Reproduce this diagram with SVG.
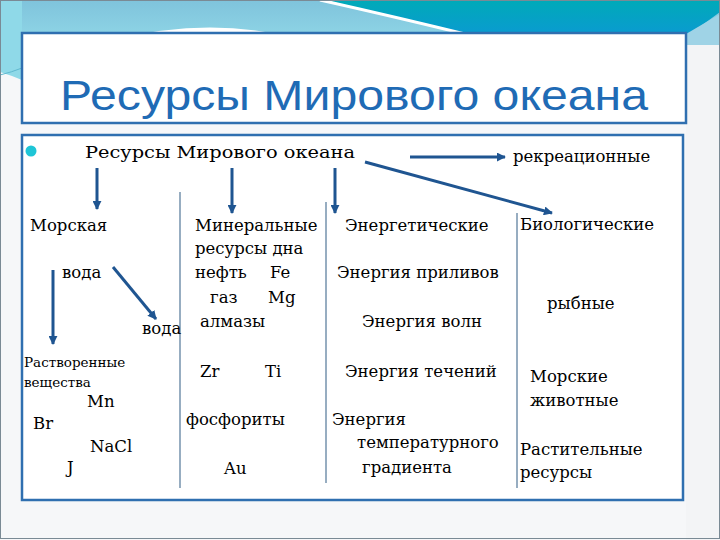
<svg xmlns="http://www.w3.org/2000/svg" width="720" height="540" viewBox="0 0 720 540">
<defs>
<linearGradient id="lb" x1="0" y1="0" x2="0" y2="1"><stop offset="0" stop-color="#7fc3dc"/><stop offset="1" stop-color="#8fd6e6"/></linearGradient>
<linearGradient id="tl" x1="0" y1="0" x2="0" y2="1"><stop offset="0" stop-color="#00aab8"/><stop offset="1" stop-color="#0a9bd0"/></linearGradient>
<marker id="ah" viewBox="0 0 10 10" refX="9" refY="5" markerWidth="9" markerHeight="9" markerUnits="userSpaceOnUse" orient="auto"><path d="M0,0 L10,5 L0,10 z" fill="#1f5591"/></marker>
<style>
.t{font-family:"DejaVu Serif","Liberation Serif",serif;font-size:16.5px;fill:#000}
.s{font-size:13.5px}
.arr{stroke:#1f5591;stroke-width:3;fill:none;marker-end:url(#ah)}
.sep{stroke:#7592ad;stroke-width:1.5}
.box{fill:#fff;stroke:#2f6fb0;stroke-width:2.5}
</style>
</defs>
<rect x="0" y="0" width="720" height="540" fill="#f6f7f9"/>
<path d="M0,0 H720 V40 H0 Z" fill="url(#lb)"/>
<path d="M0,0 H22 V80 Q10,75 0,72 Z" fill="#8fd9e8"/>
<path d="M0,75 Q12,72 22,68" stroke="#5fb8cf" stroke-width="1" fill="none"/>
<path d="M115,40 Q210,15 305,40 Z" fill="#ffffff"/>
<path d="M325,0 H720 V12 L690,34 H465 Q400,18 325,0 Z" fill="url(#tl)"/>
<path d="M320,0 Q400,18 465,34" stroke="#ffffff" stroke-width="3" fill="none"/>
<path d="M686,34 L720,14 V45 H686 Z" fill="#9fd3e6"/>
<rect x="686" y="45" width="34" height="495" fill="#f3f4f6"/>
<rect x="0.5" y="0.5" width="719" height="538" fill="none" stroke="#7a8a95" stroke-width="1"/>

<g id="title">
<rect class="box" x="22" y="33" width="664" height="90"/>
<text x="60" y="110" font-family="Liberation Sans,Arial,sans-serif" font-size="43" fill="#1f6bb5" textLength="588" lengthAdjust="spacingAndGlyphs">Ресурсы  Мирового  океана</text>
</g>

<g id="content">
<rect class="box" x="22" y="135" width="661" height="365"/>
<circle cx="31" cy="151" r="5.5" fill="#1ec5d6"/>
</g>

<g id="separators">
<line class="sep" x1="180" y1="192" x2="180" y2="488"/>
<line class="sep" x1="326" y1="202" x2="326" y2="483"/>
<line class="sep" x1="517" y1="213" x2="517" y2="488"/>
</g>

<g id="connectors">
<line class="arr" x1="410" y1="157" x2="505" y2="157"/>
<line class="arr" x1="365" y1="162" x2="552" y2="213"/>
<line class="arr" x1="97" y1="168" x2="97" y2="209"/>
<line class="arr" x1="232" y1="168" x2="232" y2="213"/>
<line class="arr" x1="335" y1="168" x2="335" y2="213"/>
<line class="arr" x1="53" y1="270" x2="53" y2="344"/>
<line class="arr" x1="113" y1="267" x2="156" y2="319"/>
</g>

<g id="root"><text class="t" x="85" y="158" font-size="19.5" textLength="270" lengthAdjust="spacingAndGlyphs">Ресурсы  Мирового  океана</text></g>
<g id="recreational"><text class="t" x="513" y="162">рекреационные</text></g>

<g id="sea-water">
<text class="t" x="30" y="231">Морская</text>
<text class="t" x="62" y="278">вода</text>
<text class="t" x="142" y="334">вода</text>
<text class="t s" x="24" y="367">Растворенные</text>
<text class="t s" x="24" y="387">вещества</text>
<text class="t" x="87" y="407">Mn</text>
<text class="t" x="33" y="429">Br</text>
<text class="t" x="90" y="452">NaCl</text>
<text class="t" x="67" y="473">J</text>
</g>

<g id="mineral">
<text class="t" x="195" y="231">Минеральные</text>
<text class="t" x="195" y="254">ресурсы дна</text>
<text class="t" x="195" y="278">нефть</text>
<text class="t" x="270" y="278">Fe</text>
<text class="t" x="210" y="303">газ</text>
<text class="t" x="268" y="303">Mg</text>
<text class="t" x="200" y="327">алмазы</text>
<text class="t" x="200" y="377">Zr</text>
<text class="t" x="265" y="377">Ti</text>
<text class="t" x="186" y="425">фосфориты</text>
<text class="t" x="224" y="474">Au</text>
</g>

<g id="energy">
<text class="t" x="345" y="231">Энергетические</text>
<text class="t" x="337" y="278">Энергия приливов</text>
<text class="t" x="362" y="327">Энергия волн</text>
<text class="t" x="345" y="377">Энергия течений</text>
<text class="t" x="332" y="425">Энергия</text>
<text class="t" x="357" y="448">температурного</text>
<text class="t" x="362" y="473">градиента</text>
</g>

<g id="biological">
<text class="t" x="520" y="230">Биологические</text>
<text class="t" x="547" y="309">рыбные</text>
<text class="t" x="530" y="382">Морские</text>
<text class="t" x="530" y="406">животные</text>
<text class="t" x="520" y="455">Растительные</text>
<text class="t" x="520" y="478">ресурсы</text>
</g>
</svg>
